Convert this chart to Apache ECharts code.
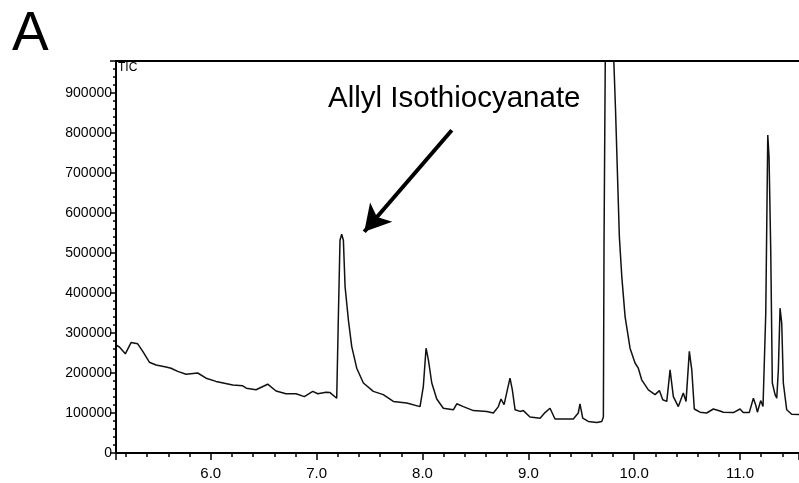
<!DOCTYPE html>
<html>
<head>
<meta charset="utf-8">
<script src="https://cdn.jsdelivr.net/npm/echarts@6/dist/echarts.min.js"></script>
<style>
  html, body { margin: 0; padding: 0; background: #fff; }
  #tic { width: 799px; height: 483px; overflow: hidden; }
</style>
</head>
<body>
<div id="tic"></div>
<script>
  // retention time (min) and total ion count
  var times = [
    5.105, 5.137, 5.193, 5.247, 5.310, 5.358, 5.420, 5.483, 5.578, 5.625,
    5.688, 5.767, 5.877, 5.956, 6.050, 6.208, 6.302, 6.336, 6.428, 6.538,
    6.617, 6.711, 6.806, 6.884, 6.964, 7.011, 7.089, 7.127, 7.190, 7.205,
    7.221, 7.237, 7.253, 7.269, 7.300, 7.332, 7.379, 7.442, 7.536, 7.630,
    7.725, 7.851, 7.977, 8.008, 8.034, 8.056, 8.088, 8.135, 8.197, 8.292,
    8.324, 8.386, 8.481, 8.607, 8.670, 8.717, 8.742, 8.771, 8.802, 8.827,
    8.849, 8.875, 8.922, 8.953, 9.016, 9.111, 9.158, 9.205, 9.252, 9.331,
    9.425, 9.472, 9.488, 9.514, 9.567, 9.646, 9.694, 9.709, 9.715, 9.740,
    9.780, 9.805, 9.824, 9.841, 9.860, 9.883, 9.914, 9.961, 10.008, 10.039,
    10.071, 10.134, 10.197, 10.238, 10.270, 10.308, 10.339, 10.370, 10.417, 10.464,
    10.490, 10.521, 10.544, 10.568, 10.622, 10.685, 10.748, 10.811, 10.842, 10.937,
    11.000, 11.030, 11.087, 11.126, 11.148, 11.164, 11.195, 11.217, 11.243, 11.262,
    11.274, 11.290, 11.305, 11.331, 11.347, 11.362, 11.378, 11.394, 11.409, 11.441,
    11.488, 11.557
  ];
  var ticValues = [
    270000, 265000, 248000, 276000, 273000, 254000, 227000, 220000, 215000, 212000,
    204000, 197000, 200000, 187000, 179000, 170000, 168000, 162000, 158000, 172000,
    155000, 148000, 148000, 141000, 154000, 148000, 152000, 151000, 137000, 333000,
    532000, 547000, 532000, 416000, 333000, 266000, 212000, 175000, 154000, 146000,
    129000, 125000, 116000, 166000, 262000, 233000, 175000, 135000, 112000, 108000,
    123000, 116000, 106000, 104000, 100000, 116000, 135000, 121000, 158000, 187000,
    158000, 108000, 104000, 106000, 90000, 87000, 101000, 112000, 85000, 85000,
    85000, 100000, 123000, 87000, 79000, 76000, 79000, 90000, 516000, 1500000,
    1500000, 1000000, 857000, 707000, 541000, 441000, 341000, 262000, 225000, 212000,
    183000, 158000, 146000, 156000, 133000, 129000, 208000, 141000, 116000, 150000,
    129000, 254000, 208000, 110000, 102000, 100000, 110000, 105000, 102000, 101000,
    110000, 101000, 101000, 137000, 120000, 102000, 131000, 116000, 349000, 795000,
    740000, 507000, 175000, 146000, 137000, 208000, 362000, 324000, 175000, 108000,
    97000, 96000
  ];
  var xRange = [5.105, 11.557];
  var yRange = [0, 980000];
  var panelLabel = "A";
  var compoundName = "Allyl Isothiocyanate";
  // arrow from label down to the peak, in data units
  var arrowFrom = [8.277, 807000];
  var arrowTo = [7.45, 553000];

  var points = times.map(function (t, i) { return [t, ticValues[i]]; });
  var axisFont = '"Liberation Sans Narrow", "Liberation Sans", Arial, sans-serif';

  var chart = echarts.init(document.getElementById("tic"), null, { renderer: "canvas" });
  chart.setOption({
    animation: false,
    grid: { left: 116, top: 61, right: 0, bottom: 30 },
    xAxis: [
      {
        type: "value",
        min: xRange[0],
        max: xRange[1],
        splitNumber: 6,
        splitLine: { show: false },
        axisLine: { lineStyle: { color: "#000", width: 2 } },
        axisTick: { length: 7, lineStyle: { color: "#000", width: 1.5 } },
        minorTick: { show: true, splitNumber: 5, length: 4, lineStyle: { color: "#000", width: 1.5 } },
        axisLabel: {
          showMinLabel: false,
          showMaxLabel: false,
          margin: 13,
          color: "#000",
          fontSize: 15,
          fontFamily: axisFont,
          formatter: function (v) {
            return Math.abs(v - Math.round(v)) < 1e-6 ? v.toFixed(1) : "";
          }
        }
      },
      {
        type: "value",
        position: "top",
        min: xRange[0],
        max: xRange[1],
        axisLine: { show: true, onZero: false, lineStyle: { color: "#000", width: 2 } },
        axisTick: { show: false },
        axisLabel: { show: false },
        splitLine: { show: false }
      }
    ],
    yAxis: {
      type: "value",
      min: yRange[0],
      max: yRange[1],
      splitNumber: 10,
      splitLine: { show: false },
      axisLine: { show: true, lineStyle: { color: "#000", width: 2 } },
      axisTick: { length: 6, lineStyle: { color: "#000", width: 1.5 } },
      minorTick: { show: true, splitNumber: 5, length: 3, lineStyle: { color: "#000", width: 1.5 } },
      axisLabel: {
        showMaxLabel: false,
        margin: 4,
        color: "#000",
        fontSize: 14,
        fontFamily: axisFont,
        formatter: function (v) {
          return v % 100000 === 0 ? String(v) : "";
        }
      }
    },
    graphic: [
      {
        type: "text",
        left: 12,
        top: 7,
        style: { text: panelLabel, fill: "#000", font: '55px "Liberation Sans", Arial, sans-serif' }
      },
      {
        type: "text",
        left: 118,
        top: 62,
        style: { text: "TIC", fill: "#000", font: '12px ' + axisFont }
      },
      {
        type: "text",
        left: 328,
        top: 84,
        style: { text: compoundName, fill: "#000", font: '29.5px "Liberation Sans", Arial, sans-serif' }
      }
    ],
    series: [
      {
        name: "TIC",
        type: "line",
        data: points,
        showSymbol: false,
        clip: true,
        lineStyle: { color: "#111", width: 1.5 },
        markLine: {
          silent: true,
          symbol: ["none", "arrow"],
          symbolSize: [22, 26],
          label: { show: false },
          lineStyle: { color: "#000", width: 4, type: "solid" },
          itemStyle: { color: "#000" },
          data: [[{ coord: arrowFrom }, { coord: arrowTo }]]
        }
      }
    ]
  });
</script>
</body>
</html>
